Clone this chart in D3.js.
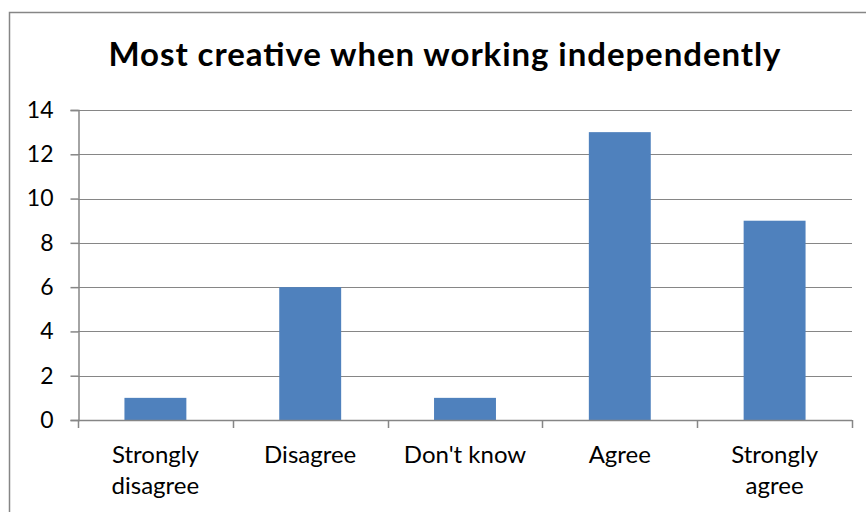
<!DOCTYPE html>
<html>
<head>
<meta charset="utf-8">
<script src="https://cdn.jsdelivr.net/npm/d3@7"></script>
<style>
  html, body { margin: 0; padding: 0; background: #fff; }
  svg { display: block; }
  text { font-family: Lato, "Open Sans", sans-serif; fill: #000; }
</style>
</head>
<body>
<svg id="chart" width="866" height="512"></svg>
<script>
// Survey responses
const title = "Most creative when working independently";
const categories = [["Strongly", "disagree"], ["Disagree"], ["Don't know"], ["Agree"], ["Strongly", "agree"]];
const values = [1, 6, 1, 13, 9];
const yTicks = [0, 2, 4, 6, 8, 10, 12, 14];

const svg = d3.select("#chart");
const plot = { left: 78, right: 852, top: 110, bottom: 420 };
const gridColor = "#868686";
const barColor = "#4F81BD";

// Outer chart frame
svg.append("rect")
  .attr("x", 9.5).attr("y", 12.5)
  .attr("width", 880).attr("height", 520)
  .attr("fill", "none").attr("stroke", gridColor).attr("stroke-width", 1.5);

svg.append("text")
  .attr("x", 444.5).attr("y", 66)
  .attr("text-anchor", "middle")
  .attr("font-size", 33).attr("font-weight", "bold")
  .attr("textLength", 672).attr("lengthAdjust", "spacing")
  .text(title);

const keys = categories.map((c, i) => i);
const x = d3.scaleBand().domain(keys).range([plot.left, plot.right]).paddingInner(0).paddingOuter(0);
const y = d3.scaleLinear().domain([0, 14]).range([plot.bottom, plot.top]);

// Horizontal gridlines
svg.append("g").selectAll("line").data(yTicks.slice(1)).join("line")
  .attr("x1", plot.left).attr("x2", plot.right)
  .attr("y1", d => Math.round(y(d)) + 0.5).attr("y2", d => Math.round(y(d)) + 0.5)
  .attr("stroke", gridColor).attr("stroke-width", 1);

// Y axis
const yAxis = svg.append("g")
  .attr("transform", `translate(${plot.left + 0.5},0)`)
  .call(d3.axisLeft(y).tickValues(yTicks).tickSize(8).tickPadding(17).tickFormat(d3.format("d")));
yAxis.select(".domain").attr("stroke", gridColor).attr("stroke-width", 1.5);
yAxis.selectAll(".tick line").attr("stroke", gridColor).attr("stroke-width", 1.5);
yAxis.selectAll(".tick text").attr("font-size", 23).attr("font-family", "Lato, sans-serif").attr("fill", "#000");

// Bars: width is 40% of each category band, centred
const barW = x.bandwidth() * 0.4;
svg.append("g").selectAll("rect").data(values).join("rect")
  .attr("x", (d, i) => x(i) + (x.bandwidth() - barW) / 2)
  .attr("y", d => y(d))
  .attr("width", barW)
  .attr("height", d => y(0) - y(d))
  .attr("fill", barColor);

// X axis baseline with tick marks at category boundaries
const xg = svg.append("g");
xg.append("line")
  .attr("x1", plot.left).attr("x2", plot.right)
  .attr("y1", plot.bottom + 0.5).attr("y2", plot.bottom + 0.5)
  .attr("stroke", gridColor).attr("stroke-width", 1.5);
const bounds = keys.map(k => x(k)).concat([plot.right]);
xg.selectAll("line.tk").data(bounds).join("line").attr("class", "tk")
  .attr("x1", d => Math.round(d) + 0.5).attr("x2", d => Math.round(d) + 0.5)
  .attr("y1", plot.bottom).attr("y2", plot.bottom + 8)
  .attr("stroke", gridColor).attr("stroke-width", 1.5);

// Category labels
const lab = xg.selectAll("text.cat").data(categories).join("text").attr("class", "cat")
  .attr("text-anchor", "middle").attr("font-size", 24);
lab.each(function(lines, i) {
  const t = d3.select(this);
  lines.forEach((ln, j) => {
    t.append("tspan")
      .attr("x", x(i) + x.bandwidth() / 2)
      .attr("y", 463 + j * 31)
      .text(ln);
  });
});
</script>
</body>
</html>
